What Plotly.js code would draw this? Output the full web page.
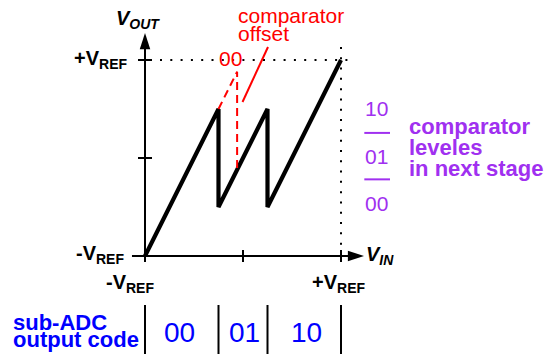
<!DOCTYPE html>
<html>
<head>
<meta charset="utf-8">
<script src="https://cdn.plot.ly/plotly-3.0.1.min.js"></script>
<style>
  html, body { margin: 0; padding: 0; background: #ffffff; }
  #chart { width: 548px; height: 354px; }
</style>
</head>
<body>
<div id="chart"></div>
<script>
// Residue transfer curve of a 1.5-bit pipeline ADC stage.
// Input and output are normalised so that -VREF = -1 and +VREF = +1.

// Residue curve: V_OUT versus V_IN
const residueIn  = [-1, -0.25, -0.25, 0.25, 0.25, 1];
const residueOut = [-1,  0.5,  -0.5,  0.5, -0.5,  1];

// Curve when the first comparator threshold is shifted by an offset
const offsetIn  = [-0.25, -0.06, -0.06];
const offsetOut = [ 0.5,   0.88, -0.12];

// Sub-ADC decision thresholds (code boundaries along V_IN)
const codeEdges = [-1, -0.25, 0.25, 1];
// Sub-ADC output codes, one per input range
const subAdcCodes = ['00', '01', '10'];
const subAdcCodeX = [-0.653, 0.02, 0.65];

// Comparator decision levels of the next stage (top to bottom)
const nextStageCodes  = ['10', '01', '00'];
const nextStageCodeY  = [0.507, 0.018, -0.466];
const nextStageLevels = [0.256, -0.218];

// Axis decorations
const axisTickY = [0, 1];
const axisTickX = [-1, 0, 1];
const xArrowTip = 1.235;
const yArrowTip = 1.2755;

const FONT = 'Liberation Sans, Arial, Helvetica, sans-serif';
const RED = '#ff0000';
const PURPLE = '#a030f0';
const BLUE = '#0000ff';

const traces = [
  {
    x: residueIn, y: residueOut, mode: 'lines',
    line: { color: '#000000', width: 4.2 },
    hoverinfo: 'skip'
  },
  {
    x: offsetIn, y: offsetOut, mode: 'lines',
    line: { color: RED, width: 2, dash: '8px,5px' },
    hoverinfo: 'skip'
  },
  {
    // arrowheads at the ends of both axes
    x: [-1, xArrowTip], y: [yArrowTip, -1], mode: 'markers',
    marker: { symbol: 'arrow', size: 17, color: '#000000', angle: [0, 90],
              line: { width: 0 } },
    hoverinfo: 'skip'
  }
];

const shapes = [];
const line = (x0, y0, x1, y1, color, width, dash) => ({
  type: 'line', xref: 'x', yref: 'y', x0, y0, x1, y1,
  line: { color, width, dash: dash || 'solid' }, layer: 'below'
});

// axes
shapes.push(line(-1, -1.05, -1, yArrowTip - 0.1, '#000', 2));
shapes.push(line(-1.133, -1, xArrowTip - 0.1, -1, '#000', 2));
axisTickY.forEach(v => shapes.push(line(-1.0714, v, -0.9286, v, '#000', 2)));
axisTickX.forEach(v => shapes.push(line(v, -0.9388, v, -1.0612, '#000', 2)));

// dotted reference lines at +VREF
shapes.push(line(-0.847, 1, 1.133, 1, '#000', 2, '2px,8.3px'));
shapes.push(line(1, 1.133, 1, -1, '#000', 2, '2px,8.3px'));

// pointer from the offset label to the shifted threshold
shapes.push(line(0.2551, 1.1327, -0.005, 0.5714, RED, 2));

// next-stage comparator levels
nextStageLevels.forEach(v => shapes.push(line(1.2378, v, 1.5, v, PURPLE, 2)));

// sub-ADC code boundaries
codeEdges.forEach(v => shapes.push(line(v, -1.5, v, -2.1, '#000', 2)));

const ann = (text, x, y, xanchor, size, color, extra) => Object.assign({
  text, x, y, xref: 'x', yref: 'y', xanchor, yanchor: 'middle',
  showarrow: false, borderpad: 0,
  font: Object.assign({ family: FONT, size, color }, (extra || {}))
}, {});

const bold = { weight: 'bold' };
const boldItalic = { weight: 'bold', style: 'italic' };

const annotations = [
  ann('V<sub>OUT</sub>', -1.306, 1.4133, 'left', 20, '#000', boldItalic),
  ann('V<sub>IN</sub>', 1.245, -0.995, 'left', 20, '#000', boldItalic),
  ann('+V<sub>REF</sub>', -1.1735, 1.0102, 'right', 20, '#000', bold),
  ann('-V<sub>REF</sub>', -1.2041, -0.9796, 'right', 20, '#000', bold),
  ann('-V<sub>REF</sub>', -1.153, -1.2806, 'center', 20, '#000', bold),
  ann('+V<sub>REF</sub>', 0.974, -1.2806, 'center', 20, '#000', bold),

  ann('comparator', -0.0643, 1.449, 'left', 21, RED),
  ann('offset', -0.0643, 1.2694, 'left', 21, RED),
  ann('00', -0.1327, 1.0173, 'center', 21, RED),

  ann('comparator', 1.6867, 0.3194, 'left', 22, PURPLE, bold),
  ann('leveles', 1.6867, 0.1082, 'left', 22, PURPLE, bold),
  ann('in next stage', 1.6867, -0.1061, 'left', 22, PURPLE, bold),

  ann('sub-ADC', -2.3602, -1.6776, 'left', 22, BLUE, bold),
  ann('output code', -2.3602, -1.848, 'left', 22, BLUE, bold)
];

nextStageCodes.forEach((c, i) =>
  annotations.push(ann(c, 1.3643, nextStageCodeY[i], 'center', 21, PURPLE)));
subAdcCodes.forEach((c, i) =>
  annotations.push(ann(c, subAdcCodeX[i], -1.7806, 'center', 28, BLUE)));

const layout = {
  width: 548, height: 354,
  margin: { l: 0, r: 0, t: 0, b: 0, pad: 0 },
  paper_bgcolor: '#ffffff', plot_bgcolor: '#ffffff',
  showlegend: false,
  xaxis: { range: [-2.4796, 3.1122], visible: false, fixedrange: true },
  yaxis: { range: [-2.0, 1.6122], visible: false, fixedrange: true },
  shapes, annotations
};

Plotly.newPlot('chart', traces, layout, { staticPlot: true, displayModeBar: false });
</script>
</body>
</html>
